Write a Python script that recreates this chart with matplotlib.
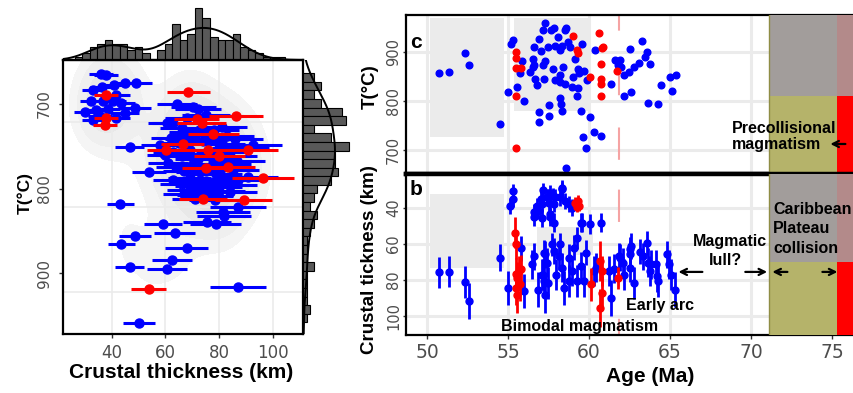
import numpy as np
import matplotlib
matplotlib.use("Agg")
import matplotlib.pyplot as plt
from matplotlib.patches import Rectangle

plt.rcParams['font.family'] = ['DejaVu Sans']

# ---------------- data ----------------
# left panel: (crustal thickness km, T degC, thickness error km)
left_blue = [
    (35.9, 664, 4.5), (37.8, 666, 4.5), (33.0, 683, 4), (36.5, 680, 4.5), (40.7, 678, 5), (44.8, 675, 5.5),
    (48.9, 675, 6), (41.7, 689, 5), (32.2, 697, 4), (36.8, 697, 4.5), (40.5, 697, 5), (43.6, 699, 5),
    (30.0, 709, 4), (34.3, 707, 4), (38.6, 706, 4.5), (44.8, 711, 5.5), (48.6, 705, 6), (33.0, 719, 4),
    (41.7, 716, 5), (35.6, 714, 4.5), (46.7, 751, 5.5), (53.9, 780, 6.5), (43.2, 818, 5), (59.1, 842, 7),
    (48.6, 856, 6), (43.6, 866, 5), (63.4, 853, 7.5), (68.0, 870, 8), (62.4, 885, 7.5), (60.7, 895, 7.5),
    (46.7, 893, 5.5), (87.0, 917, 10.5), (50.2, 959, 6), (75.5, 840, 9), (78.7, 842, 9.5), (87.0, 822, 10.5),
    (81.4, 828, 10), (81.7, 832, 10), (64.2, 700, 7.5), (70.4, 704, 8.5), (72.2, 706, 8.5), (60.5, 723, 7),
    (62.7, 723, 7.5), (80.9, 727, 9.5), (85.9, 741, 10.5), (92.5, 748, 11), (86.5, 768, 10.5), (90.8, 786, 11),
    (79.1, 798, 9.5), (69.1, 802, 8.5), (72.8, 808, 8.5), (78.4, 814, 9.5), (84.0, 804, 10),
    (62, 740, 7.5), (65, 746, 8), (68, 742, 8), (71, 737, 8.5), (74, 744, 9), (77, 741, 9), (80, 747, 9.5),
    (83, 738, 10), (60, 760, 7), (63, 757, 7.5), (66, 762, 8), (69, 755, 8), (72, 765, 8.5), (75, 759, 9),
    (78, 764, 9.5), (81, 757, 9.5), (84, 762, 10), (64, 774, 7.5), (67, 779, 8), (70, 772, 8.5), (73, 781, 9),
    (76, 776, 9), (79, 783, 9.5), (82, 771, 10), (85, 778, 10), (63, 790, 7.5), (66, 795, 8), (69, 788, 8),
    (72, 797, 8.5), (75, 791, 9), (78, 794, 9.5), (81, 789, 9.5), (84, 796, 10), (67, 806, 8), (71, 812, 8.5),
    (76, 809, 9), (80, 803, 9.5), (66, 728, 8), (70, 733, 8.5), (74, 729, 9), (78, 731, 9.5), (68, 716, 8),
    (75, 713, 9), (58, 748, 7), (61, 770, 7.5), (88, 752, 10.5), (87, 790, 10.5),
]
left_red = [
    (38.0, 689, 4.5), (38.0, 717, 4.5), (37.4, 725, 4.5), (53.8, 919, 6.5), (74.0, 812, 9), (89.1, 813, 10.5),
    (68.5, 686, 8), (86.2, 714, 10), (71.6, 718, 8.5), (73.5, 723, 9), (77.8, 735, 9.5), (66.4, 747, 8),
    (60.2, 755, 7), (75.9, 754, 9), (80.0, 761, 9.5), (90.8, 755, 11), (75.0, 776, 9), (83.2, 774, 10),
    (96.2, 787, 11.5),
]
# marginal histograms (counts)
thick_bin_start, thick_bin_width = 26.2, 2.8
thick_counts = [1, 2, 4, 5, 6, 5, 5, 3, 4, 2, 0, 3, 5, 11, 6, 8, 16, 13, 7, 6, 6, 8, 4, 3, 2, 1, 1, 1, 0]
temp_bin_start, temp_bin_width = 663.6, 10.16
temp_counts = [3, 5, 3, 5, 11, 12, 3, 8, 13, 9, 9, 10, 8, 4, 3, 2, 4, 3, 2, 1, 1, 1, 3, 1, 1, 1, 1, 2, 1]

# panel c: (age Ma, T degC)
c_blue = [
    (50.71, 856), (51.33, 860), (52.37, 897), (52.62, 874), (54.49, 752), (55.01, 818), (55.17, 917), (55.32, 924),
    (55.55, 828), (55.86, 882), (55.74, 856), (56.0, 799), (56.36, 859), (56.53, 886), (56.63, 910), (56.63, 874),
    (56.69, 845), (56.8, 832), (56.9, 926), (56.9, 778), (56.94, 756), (57.05, 901), (57.15, 945), (57.31, 960),
    (57.25, 845), (57.15, 873), (57.31, 881), (57.46, 910), (57.52, 791), (57.52, 770), (57.67, 945), (57.77, 866),
    (57.81, 949), (57.93, 912), (57.93, 842), (58.09, 931), (58.19, 904), (58.19, 852), (58.19, 838), (58.23, 806),
    (58.29, 794), (58.35, 780), (58.4, 869), (58.35, 912), (58.5, 945), (58.6, 948), (58.71, 921), (58.81, 910),
    (58.92, 828), (59.02, 849), (59.12, 886), (59.23, 811), (59.33, 866), (59.33, 826), (59.54, 917), (59.5, 780),
    (59.64, 726), (59.79, 704), (60.06, 767), (60.33, 736), (60.37, 904), (59.85, 842), (60.74, 729), (61.35, 834),
    (61.61, 883), (61.76, 873), (61.93, 883), (61.99, 869), (62.14, 852), (62.18, 809), (62.45, 859), (62.51, 906),
    (62.59, 819), (62.76, 869), (63.07, 878), (63.28, 922), (63.45, 890), (63.55, 900), (63.74, 876), (63.64, 795),
    (64.28, 794), (64.46, 832), (65.0, 849), (65.36, 852), (65.11, 821), (58.56, 663), (58.5, 835), (56.53, 869),
    (59.38, 856), (59.68, 862),
]
c_red = [
    (55.49, 900), (55.49, 888), (55.49, 867), (55.80, 867), (55.49, 811), (55.49, 703), (59.02, 933), (59.23, 904),
    (59.33, 897), (60.06, 848), (60.64, 938), (60.79, 907), (60.85, 910), (60.74, 875), (60.74, 845), (60.74, 834),
    (60.74, 811), (61.72, 862),
]
# panel b: (age Ma, crustal thickness km, error km)
b_blue = [
    (50.71, 75.8, 8.5), (51.33, 75.6, 8.5), (52.37, 81.1, 9), (52.62, 91.9, 10), (54.49, 67.8, 7.5), (55.0, 84.4, 9.5),
    (55.13, 39.1, 4.5), (55.28, 35.4, 4.5), (55.32, 30.8, 4), (55.78, 62.6, 7), (55.99, 86.3, 9.5), (56.59, 45.2, 5),
    (56.84, 41.9, 4.5), (56.48, 71.5, 8), (56.63, 66.9, 7.5), (56.84, 85.4, 9.5), (57.04, 35.4, 4.5), (57.1, 38.2, 4.5),
    (57.15, 77.1, 8.5), (57.31, 65.9, 7.5), (57.46, 34.4, 4.5), (57.56, 37.2, 4.5), (57.76, 33.0, 4), (57.46, 81.7, 9),
    (57.72, 60.4, 6.5), (57.6, 45.2, 5), (57.15, 30.4, 4), (57.4, 34.4, 4.5), (57.6, 31.7, 4), (57.81, 38.2, 4.5),
    (57.92, 34.4, 4.5), (58.34, 29.8, 4), (58.23, 34.4, 4.5), (58.54, 36.3, 4.5), (58.75, 38.2, 4.5), (58.96, 40.0, 4.5),
    (57.86, 48.3, 5.5), (57.6, 43.7, 5), (57.09, 45.6, 5), (57.23, 65.0, 7), (57.81, 64.1, 7), (58.12, 66.9, 7.5),
    (58.23, 60.4, 6.5), (58.34, 73.3, 8), (57.4, 70.6, 8), (57.19, 80.8, 9), (57.98, 77.1, 8.5), (58.43, 84.4, 9.5),
    (58.75, 67.8, 7.5), (58.96, 75.2, 8.5), (59.06, 62.2, 7), (59.23, 56.7, 6), (59.48, 72.4, 8), (59.56, 48.3, 5.5),
    (59.66, 80.8, 9), (59.79, 65.0, 7), (60.06, 48.9, 5.5), (60.77, 48.3, 5.5), (60.31, 75.2, 8.5), (61.35, 90.0, 10),
    (61.24, 75.2, 8.5), (61.87, 66.9, 7.5), (62.07, 70.6, 8), (62.18, 77.1, 8.5), (62.5, 65.9, 7.5), (62.6, 61.3, 7),
    (62.8, 81.7, 9), (62.5, 73.3, 8), (63.12, 64.5, 7), (63.32, 66.9, 7.5), (63.6, 59.5, 6.5), (63.64, 70.6, 8),
    (63.74, 75.2, 8.5), (64.15, 71.5, 8), (64.26, 80.8, 9), (64.84, 65.9, 7.5), (64.92, 71.5, 8), (65.09, 77.1, 8.5),
    (65.34, 85.4, 9.5), (57.09, 77.1, 8.5), (57.29, 88.2, 10), (58.75, 80.8, 9), (59.27, 80.8, 9), (59.5, 48.3, 5.5),
    (56.63, 42.4, 4.5), (56.77, 39.1, 4.5), (60.41, 73.3, 8), (61.55, 73.9, 8), (61.93, 67.8, 7.5), (62.5, 63.2, 7),
    (63.84, 71.5, 8), (64.21, 78.0, 8.5), (58.34, 28.9, 4),
]
b_red = [
    (55.44, 53.9, 8.5), (55.47, 60.4, 8), (55.47, 76.7, 9), (55.57, 78.9, 9), (55.47, 84.4, 9.5), (55.68, 75.2, 8.5),
    (55.78, 74.3, 8), (55.57, 88.2, 10), (55.72, 82.6, 9), (59.16, 37.2, 3), (59.3, 36.3, 3), (59.37, 39.1, 3),
    (59.23, 39.7, 3), (60.1, 82.6, 9), (60.68, 69.7, 11), (60.79, 75.2, 8.5), (60.83, 87.2, 9.5), (60.68, 95.6, 10.5),
    (61.76, 78.9, 6),
]
# shaded periods
c_boxes = [(50.2, 54.73, 727, 969), (55.35, 60.12, 780, 969)]
b_boxes = [(50.2, 54.73, 32.6, 73.4), (56.79, 60.27, 51, 66)]
boundary_age = 61.83
collision_start, collision_end = 71.13, 75.31
c_grey_from = 811
b_grey_to = 70.4

# ---------------- style ----------------
BLUE = '#0000ff'
RED = '#ff0000'
OLIVE = '#b5b36a'
OLIVE_GREY = '#a29d9b'
RED_GREY = '#b38a8a'
BOXGREY = '#ebebeb'
GRID = '#ebebeb'
TICKC = '#4d4d4d'
BOLD = dict(family=['Liberation Sans', 'DejaVu Sans'], fontweight='bold')

W, H = 854, 393
fig = plt.figure(figsize=(W / 100, H / 100), dpi=100)


def box(x0, y0, x1, y1):
    return [x0 / W, 1 - y1 / H, (x1 - x0) / W, (y1 - y0) / H]


ax = fig.add_axes(box(63, 60, 303, 334))
axt = fig.add_axes(box(63, 5, 303, 60))
axr = fig.add_axes(box(303, 60, 358, 334))
axc = fig.add_axes(box(406, 15, 853, 174))
axb = fig.add_axes(box(406, 174, 853, 335))


def cols(rows):
    return [np.array(c, float) for c in zip(*rows)]


def kde_counts(data, grid, total, width):
    d = np.asarray(data, float)
    n = d.size
    sd = d.std(ddof=1)
    q75, q25 = np.percentile(d, [75, 25])
    bw = 0.9 * min(sd, (q75 - q25) / 1.34) * n ** -0.2
    dens = np.exp(-0.5 * ((grid[:, None] - d[None, :]) / bw) ** 2).sum(1) / (n * bw * np.sqrt(2 * np.pi))
    return dens * total * width


lbx, lby, lbe = cols(left_blue)
lrx, lry, lre = cols(left_red)
allx = np.concatenate([lbx, lrx])
ally = np.concatenate([lby, lry])

# ---------------- left main panel ----------------
XL = (21.9, 111.2)
YL = (972, 648)
ax.set_xlim(*XL)
ax.set_ylim(*YL)
gx = np.linspace(18, 115, 220)
gy = np.linspace(640, 985, 220)
GX, GY = np.meshgrid(gx, gy)
Z = np.zeros_like(GX)
for x0, y0 in zip(allx, ally):
    Z += np.exp(-0.5 * ((GX - x0) / 6.0) ** 2 - 0.5 * ((GY - y0) / 30.0) ** 2)
Z /= Z.max()
ax.contourf(GX, GY, Z, levels=[0.1, 0.2, 0.35, 0.55, 0.75, 1.01],
            colors=['#f5f5f5', '#efefef', '#e8e8e8', '#e2e2e2', '#dcdcdc'], zorder=0.5)
for t in (721, 822, 922):
    ax.axhline(t, color=GRID, lw=1.2, zorder=0.7)
for k in (40, 60, 80, 100):
    ax.axvline(k, color=GRID, lw=1.2, zorder=0.7)
ax.errorbar(lbx, lby, xerr=lbe, fmt='o', color=BLUE, ms=6.5, elinewidth=2.2, capsize=0, zorder=3)
ax.errorbar(lrx, lry, xerr=lre, fmt='o', color=RED, ms=6.5, elinewidth=2.2, capsize=0, zorder=3.2)
ax.set_xticks([40, 60, 80, 100])
ax.set_yticks([700, 800, 900])
ax.tick_params(axis='both', length=3, width=1, color='#333333', labelcolor=TICKC)
ax.tick_params(axis='x', labelsize=12, pad=4)
ax.tick_params(axis='y', labelsize=11, pad=5)
for lab in ax.get_yticklabels():
    lab.set_rotation(90)
    lab.set_va('center')
for s in ax.spines.values():
    s.set_linewidth(1.6)
    s.set_color('black')

# top marginal histogram
edges_t = thick_bin_start + thick_bin_width * np.arange(len(thick_counts))
axt.bar(edges_t, thick_counts, width=thick_bin_width, align='edge', color='#595959',
        edgecolor='black', lw=0.8)
xs = np.linspace(XL[0], XL[1], 400)
axt.plot(xs, kde_counts(allx, xs, sum(thick_counts), thick_bin_width), color='black', lw=1.4)
axt.set_xlim(*XL)
axt.set_ylim(0, 16.9)
axt.set_xticks([])
axt.set_yticks([])
for k, s in axt.spines.items():
    s.set_visible(k == 'bottom')
axt.spines['bottom'].set_linewidth(1.6)
axt.patch.set_alpha(0)

# right marginal histogram
edges_r = temp_bin_start + temp_bin_width * np.arange(len(temp_counts))
axr.barh(edges_r, temp_counts, height=temp_bin_width, align='edge', color='#595959',
         edgecolor='black', lw=0.8)
ys = np.linspace(YL[1], YL[0], 400)
axr.plot(kde_counts(ally, ys, sum(temp_counts), temp_bin_width), ys, color='black', lw=1.4)
axr.set_ylim(*YL)
axr.set_xlim(0, 15.5)
axr.set_xticks([])
axr.set_yticks([])
for s in axr.spines.values():
    s.set_visible(False)
axr.patch.set_alpha(0)

# ---------------- right panels ----------------
AXL = (48.7, 76.3)
CYL = (650.7, 975.4)
BYL = (110.6, 21.4)

for a, ylim, yt in ((axc, CYL, [700, 800, 900]), (axb, BYL, [40, 60, 80, 100])):
    a.set_xlim(*AXL)
    a.set_ylim(*ylim)
    for v in (50, 55, 60, 65, 70, 75):
        a.axvline(v, color=GRID, lw=2.2, zorder=0.7)
    for v in yt:
        a.axhline(v, color=GRID, lw=2.2, zorder=0.7)
    a.set_xticks([50, 55, 60, 65, 70, 75])
    a.set_yticks(yt)
    a.tick_params(axis='y', length=2, width=1, color='#333333', labelcolor=TICKC, labelsize=10.5, pad=1.5)
    for lab in a.get_yticklabels():
        lab.set_rotation(90)
        lab.set_va('center')
    a.spines['right'].set_visible(False)
    for k in ('left', 'top', 'bottom'):
        a.spines[k].set_linewidth(1.6)
        a.spines[k].set_color('black')
    lo, hi = min(ylim), max(ylim)
    a.add_patch(Rectangle((collision_start, lo), collision_end - collision_start, hi - lo,
                          facecolor=OLIVE, edgecolor='none', zorder=4))
    a.add_patch(Rectangle((collision_end, lo), AXL[1] - collision_end + 1, hi - lo,
                          facecolor=RED, edgecolor='none', zorder=4))
    a.axvline(collision_start, color='#8f8d45', lw=1.0, zorder=4.1)

axc.spines['bottom'].set_linewidth(3.2)
axb.spines['top'].set_linewidth(3.2)
axc.tick_params(axis='x', length=0, labelbottom=False)
axb.tick_params(axis='x', length=3, width=1, color='#333333', labelcolor=TICKC, labelsize=13.5, pad=3)

# grey overlays on collision column
axc.add_patch(Rectangle((collision_start, c_grey_from), collision_end - collision_start, CYL[1] - c_grey_from,
                        facecolor=OLIVE_GREY, edgecolor='none', zorder=4.05))
axc.add_patch(Rectangle((collision_end, c_grey_from), AXL[1] - collision_end + 1, CYL[1] - c_grey_from,
                        facecolor=RED_GREY, edgecolor='none', zorder=4.05))
axb.add_patch(Rectangle((collision_start, BYL[1]), collision_end - collision_start, b_grey_to - BYL[1],
                        facecolor=OLIVE_GREY, edgecolor='none', zorder=4.05))
axb.add_patch(Rectangle((collision_end, BYL[1]), AXL[1] - collision_end + 1, b_grey_to - BYL[1],
                        facecolor=RED_GREY, edgecolor='none', zorder=4.05))

for (x0, x1, y0, y1) in c_boxes:
    axc.add_patch(Rectangle((x0, y0), x1 - x0, y1 - y0, facecolor=BOXGREY, edgecolor='none', zorder=0.5))
for (x0, x1, y0, y1) in b_boxes:
    axb.add_patch(Rectangle((x0, y0), x1 - x0, y1 - y0, facecolor=BOXGREY, edgecolor='none', zorder=0.5))

axc.plot([boundary_age, boundary_age], [CYL[1], CYL[0]], color='#f5a3a3', lw=1.5,
         linestyle=(8, (15.5, 15.5)), zorder=1.5)
axb.plot([boundary_age, boundary_age], [BYL[1], BYL[0]], color='#f5a3a3', lw=1.5,
         linestyle=(23.5, (15.5, 15.5)), zorder=1.5)

cbx, cby = cols(c_blue)
crx, cry = cols(c_red)
axc.plot(cbx, cby, 'o', color=BLUE, ms=4.8, zorder=3)
axc.plot(crx, cry, 'o', color=RED, ms=4.8, zorder=3.1)

bbx, bby, bbe = cols(b_blue)
brx, bry, bre = cols(b_red)
axb.errorbar(bbx, bby, yerr=bbe, fmt='o', color=BLUE, ms=5, elinewidth=2.0, capsize=0, zorder=3)
axb.errorbar(brx, bry, yerr=bre, fmt='o', color=RED, ms=5, elinewidth=2.0, capsize=0, zorder=3.1)

# panel letters and annotations
axc.text(0.009, 0.792, 'c', transform=axc.transAxes, fontsize=15, ha='left', va='baseline', zorder=6, **BOLD)
axb.text(0.009, 0.87, 'b', transform=axb.transAxes, fontsize=15, ha='left', va='baseline', zorder=6, **BOLD)
AFS = 11.5
axc.text(68.83, 735, 'Precollisional', fontsize=AFS, ha='left', va='baseline', zorder=6, **BOLD)
axc.text(68.83, 702, 'magmatism', fontsize=AFS, ha='left', va='baseline', zorder=6, **BOLD)
axb.text(71.38, 43.7, 'Caribbean', fontsize=AFS, ha='left', va='baseline', zorder=6, **BOLD)
axb.text(71.38, 54.3, 'Plateau', fontsize=AFS, ha='left', va='baseline', zorder=6, **BOLD)
axb.text(71.38, 65.0, 'collision', fontsize=AFS, ha='left', va='baseline', zorder=6, **BOLD)
axb.text(66.44, 61.4, 'Magmatic', fontsize=AFS, ha='left', va='baseline', zorder=6, **BOLD)
axb.text(67.38, 71.6, 'lull?', fontsize=AFS, ha='left', va='baseline', zorder=6, **BOLD)
axb.text(62.3, 96.7, 'Early arc', fontsize=AFS, ha='left', va='baseline', zorder=6, **BOLD)
axb.text(54.57, 108.5, 'Bimodal magmatism', fontsize=AFS, ha='left', va='baseline', zorder=6, **BOLD)

ARW = dict(arrowstyle='->', lw=1.6, color='black', shrinkA=0, shrinkB=0, mutation_scale=11)
axc.annotate('', xy=(74.9, 712), xytext=(75.83, 712), arrowprops=ARW, zorder=6)
arrow_km = 75.65
for (xa, xb) in ((67.0, 65.52), (69.65, 71.0), (72.25, 71.32), (74.41, 75.34)):
    axb.annotate('', xy=(xb, arrow_km), xytext=(xa, arrow_km), arrowprops=ARW, zorder=6)

# axis titles
fig.text(25 / W, 1 - 193 / H, 'T(°C)', rotation=90, ha='center', va='center', fontsize=12.5, **BOLD)
fig.text(181 / W, 1 - 373 / H, 'Crustal thickness (km)', ha='center', va='center', fontsize=15, **BOLD)
fig.text(370 / W, 1 - 87 / H, 'T(°C)', rotation=90, ha='center', va='center', fontsize=13.5, **BOLD)
fig.text(370 / W, 1 - 260 / H, 'Crustal tickness (km)', rotation=90, ha='center', va='center',
         fontsize=13.5, **BOLD)
fig.text(650 / W, 1 - 377 / H, 'Age (Ma)', ha='center', va='center', fontsize=15, **BOLD)

fig.savefig('out.png', dpi=100)
